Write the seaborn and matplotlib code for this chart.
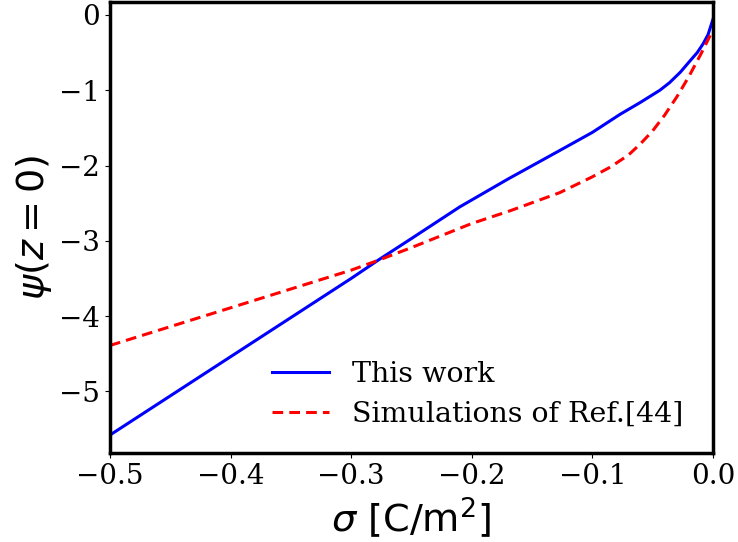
import numpy as np
import pandas as pd
import matplotlib
matplotlib.use('Agg')
import matplotlib.pyplot as plt
import seaborn as sns

# values
sigma_this = [-0.5, -0.4, -0.3, -0.276, -0.25, -0.21, -0.17, -0.127, -0.1,
              -0.077, -0.06, -0.044, -0.036, -0.027, -0.019, -0.013, -0.008,
              -0.004, 0.0]
psi_this = [-5.58, -4.54, -3.50, -3.24, -2.97, -2.55, -2.18, -1.80, -1.56,
            -1.32, -1.16, -1.00, -0.90, -0.76, -0.61, -0.50, -0.38,
            -0.26, -0.06]

sigma_ref = [-0.5, -0.45, -0.4, -0.35, -0.3, -0.276, -0.25, -0.2, -0.168,
             -0.127, -0.1, -0.085, -0.07, -0.06, -0.05, -0.04, -0.03,
             -0.02, -0.01, 0.0]
psi_ref = [-4.39, -4.14, -3.89, -3.64, -3.39, -3.25, -3.09, -2.77, -2.60,
           -2.36, -2.15, -2.02, -1.86, -1.71, -1.54, -1.33, -1.09,
           -0.82, -0.52, -0.20]

labels = ['This work', 'Simulations of Ref.[44]']

df = pd.concat([
    pd.DataFrame({'sigma': sigma_this, 'psi': psi_this, 'source': labels[0]}),
    pd.DataFrame({'sigma': sigma_ref, 'psi': psi_ref, 'source': labels[1]}),
])

fig = plt.figure(figsize=(7.38, 5.42), dpi=100)
ax = fig.add_axes([0.149, 0.164, 0.817, 0.832])

sns.lineplot(data=df, x='sigma', y='psi', hue='source', style='source',
             palette={labels[0]: 'blue', labels[1]: 'red'},
             dashes={labels[0]: '', labels[1]: (3.5, 2)},
             linewidth=2.2, sort=False, ax=ax)

ax.set_xlim(-0.5, 0.0)
ax.set_ylim(-5.82, 0.17)
ax.set_xticks([-0.5, -0.4, -0.3, -0.2, -0.1, 0.0])
ax.set_yticks([-5, -4, -3, -2, -1, 0])
for lab in ax.get_xticklabels() + ax.get_yticklabels():
    lab.set_family('DejaVu Serif')
    lab.set_fontsize(20)

ax.set_xlabel(r'$\sigma$ [C/m$^2$]', fontsize=27.5)
ax.set_ylabel(r'$\psi(z=0)$', fontsize=27.5)

for s in ax.spines.values():
    s.set_linewidth(2.5)

ax.legend(loc='lower left', bbox_to_anchor=(0.227, 0.0), frameon=False,
          prop={'family': 'DejaVu Serif', 'size': 20.5}, handlelength=2.0,
          labelspacing=0.45)

fig.savefig('out.png', dpi=100)
